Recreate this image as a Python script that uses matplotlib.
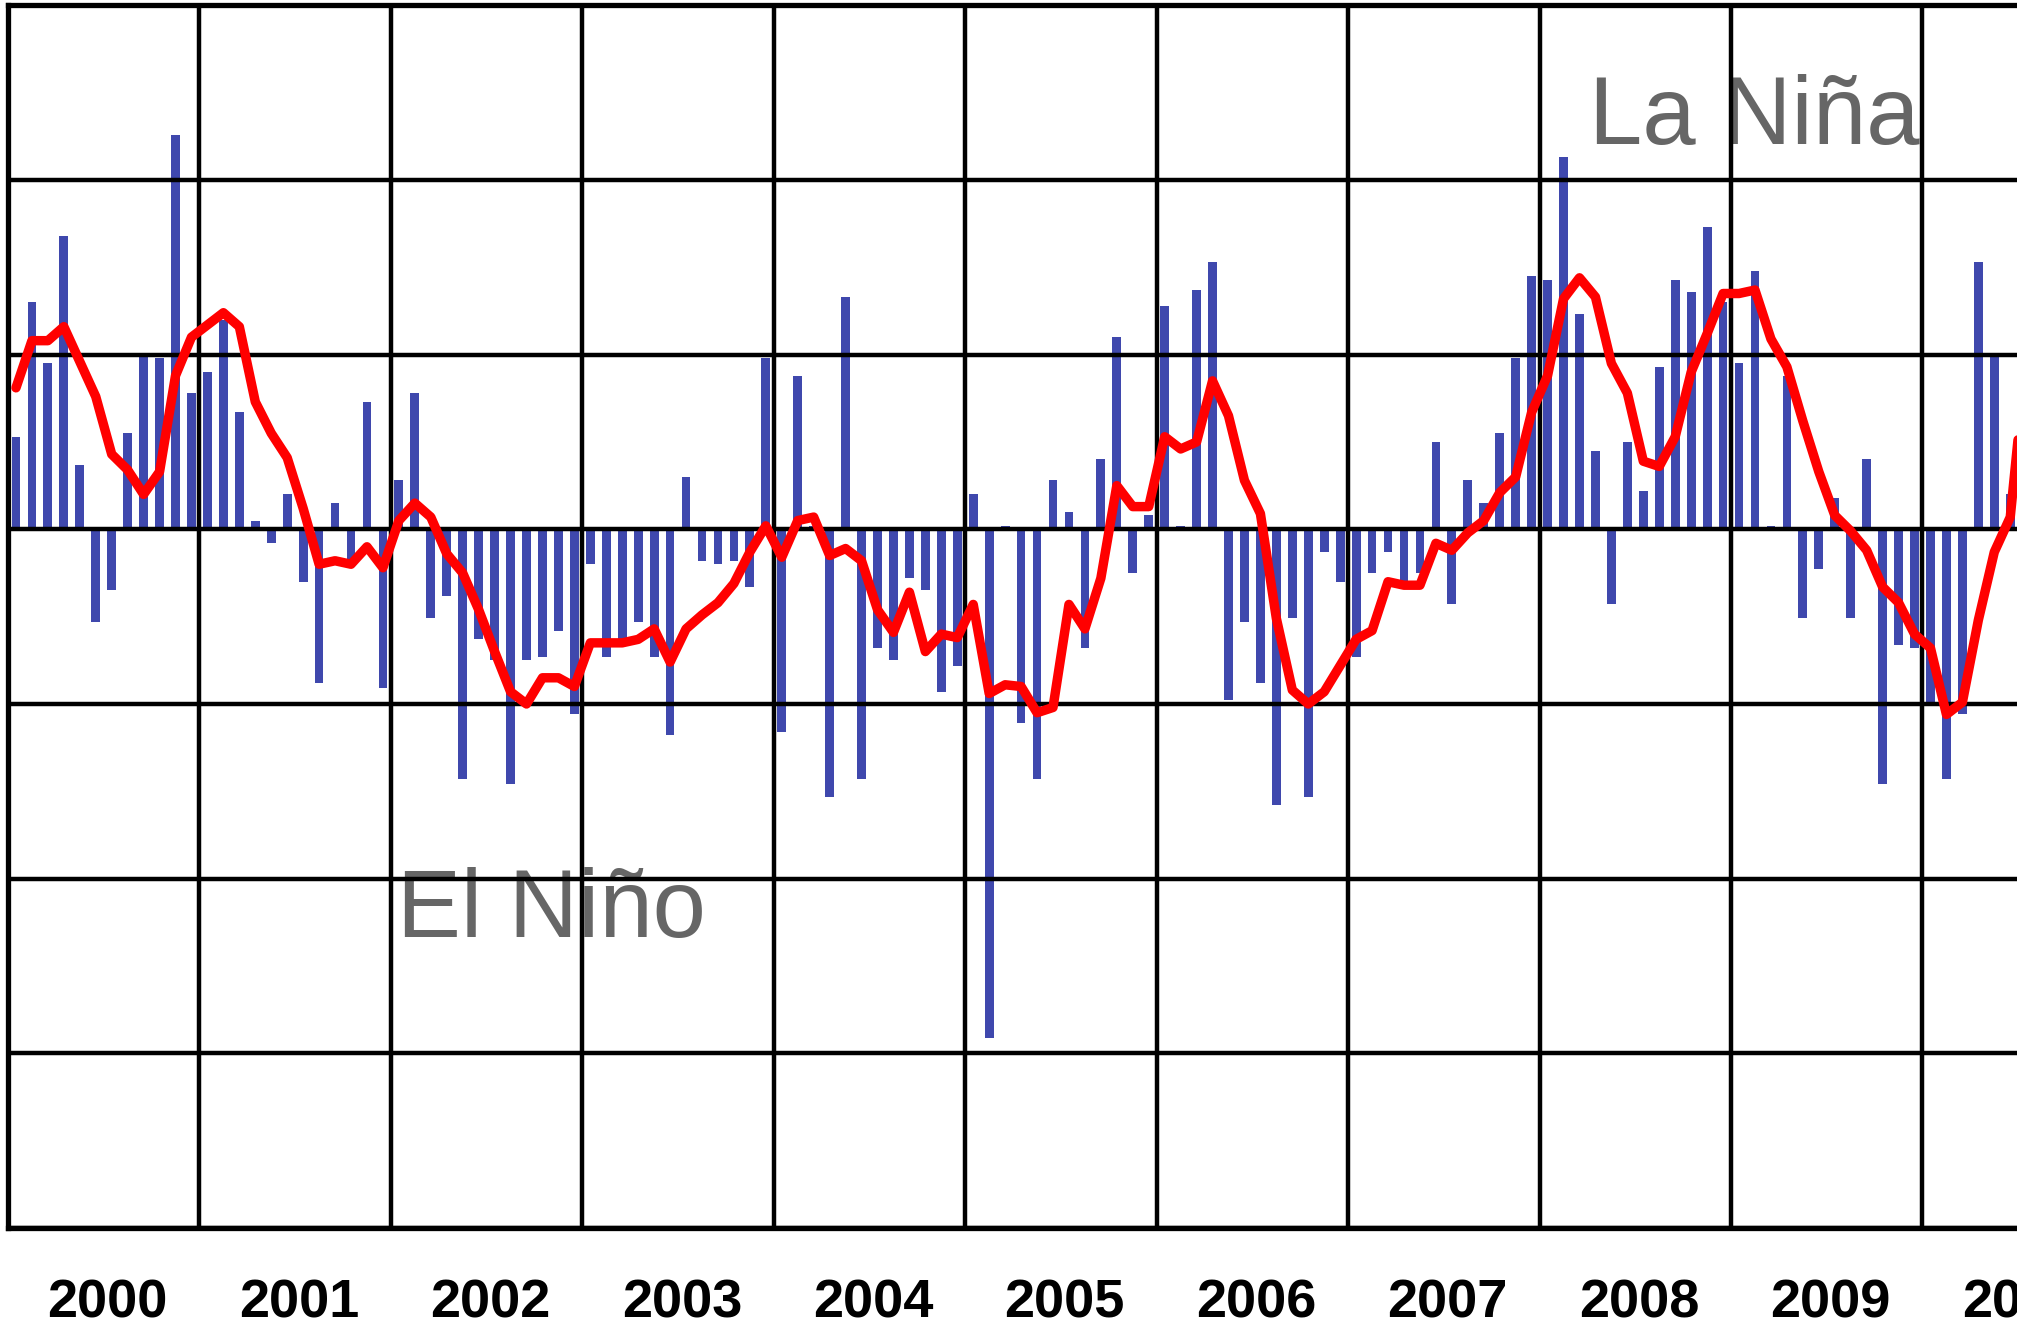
import numpy as np
import matplotlib.pyplot as plt

# Southern Oscillation Index, monthly values Jan 2000 - Jun 2010
years = list(range(2000, 2011))
year_labels = [str(y) for y in years]

soi_monthly = [
    5.3, 13.0, 9.5, 16.8, 3.7, -5.3, -3.5, 5.5, 10.0, 9.8, 22.6, 7.8,          # 2000
    9.0, 12.0, 6.7, 0.5, -0.8, 2.0, -3.0, -8.8, 1.5, -1.8, 7.3, -9.1,          # 2001
    2.8, 7.8, -5.1, -3.8, -14.3, -6.3, -7.5, -14.6, -7.5, -7.3, -5.8, -10.6,   # 2002
    -2.0, -7.3, -6.3, -5.3, -7.3, -11.8, 3.0, -1.8, -2.0, -1.8, -3.3, 9.8,     # 2003
    -11.6, 8.8, 0.2, -15.3, 13.3, -14.3, -6.8, -7.5, -2.8, -3.5, -9.3, -7.8,   # 2004
    2.0, -29.1, 0.2, -11.1, -14.3, 2.8, 1.0, -6.8, 4.0, 11.0, -2.5, 0.8,       # 2005
    12.8, 0.2, 13.7, 15.3, -9.8, -5.3, -8.8, -15.8, -5.1, -15.3, -1.3, -3.0,   # 2006
    -7.3, -2.5, -1.3, -3.0, -2.5, 5.0, -4.3, 2.8, 1.5, 5.5, 9.8, 14.5,         # 2007
    14.3, 21.3, 12.3, 4.5, -4.3, 5.0, 2.2, 9.3, 14.3, 13.6, 17.3, 13.0,        # 2008
    9.5, 14.8, 0.2, 8.8, -5.1, -2.3, 1.8, -5.1, 4.0, -14.6, -6.6, -6.8,        # 2009
    -10.1, -14.3, -10.6, 15.3, 10.0, 2.0,                                      # 2010
]

# smoothed index
soi_smoothed = [
    8.1, 10.8, 10.8, 11.6, 9.6, 7.6, 4.3, 3.4, 2.0, 3.3, 8.8, 11.0,
    11.7, 12.4, 11.6, 7.3, 5.5, 4.1, 1.2, -2.0, -1.8, -2.0, -1.0, -2.2,
    0.5, 1.5, 0.7, -1.4, -2.5, -4.6, -7.0, -9.3, -10.0, -8.5, -8.5, -9.0,
    -6.5, -6.5, -6.5, -6.3, -5.7, -7.6, -5.7, -4.9, -4.2, -3.1, -1.3, 0.2,
    -1.6, 0.5, 0.7, -1.5, -1.1, -1.8, -4.6, -5.9, -3.6, -7.0, -6.0, -6.2,
    -4.3, -9.4, -8.9, -9.0, -10.5, -10.2, -4.3, -5.7, -2.8, 2.5, 1.3, 1.3,
    5.3, 4.6, 5.0, 8.5, 6.5, 2.8, 0.9, -5.1, -9.2, -10.0, -9.3, -7.8,
    -6.3, -5.8, -3.0, -3.2, -3.2, -0.8, -1.2, -0.2, 0.5, 2.1, 3.0, 6.7,
    8.8, 13.2, 14.4, 13.3, 9.5, 7.8, 3.9, 3.6, 5.3, 9.0, 11.2, 13.5,
    13.5, 13.7, 10.9, 9.3, 6.2, 3.3, 0.8, -0.1, -1.2, -3.3, -4.2, -6.0,
    -6.8, -10.6, -9.9, -5.2, -1.3, 0.7, 9.8,
]

W, H = 2017, 1330
fig = plt.figure(figsize=(W / 100, H / 100), dpi=100)
ax = fig.add_axes([8 / W, 102 / H, (W - 8) / W, 1222.7 / H])

t_bar = 2000 + (np.arange(len(soi_monthly)) + 0.5) / 12
t_line = 2000 + (np.arange(len(soi_smoothed)) + 0.5) / 12

ax.bar(t_bar, soi_monthly, width=0.55 / 12, color='#3f48ad', linewidth=0, zorder=1)
ax.plot(t_line, soi_smoothed, color='#ff0000', lw=6.8,
        solid_joinstyle='round', solid_capstyle='round', zorder=3)

ax.set_xlim(2000, 2000 + (W - 8) / 191.45)
ax.set_ylim(-40, 30)
ax.set_xticks(years)
ax.set_yticks(range(-40, 31, 10))
ax.set_axisbelow(False)
ax.grid(True, color='black', lw=3.2)
ax.tick_params(length=0, labelbottom=False, labelleft=False)
for side in ['top', 'left', 'bottom']:
    ax.spines[side].set_linewidth(3.8)
    ax.spines[side].set_color('black')
ax.spines['right'].set_visible(False)

# year labels centred under each year, near the bottom edge
for y, lab in zip(years, year_labels):
    ax.text(y + 0.52, -45.1, lab, ha='center', va='baseline', fontsize=39,
            fontweight='bold', family='Liberation Sans', clip_on=False)

ax.text(2008.258, 22.06, 'La Niña', fontsize=69, color='#666666',
        family='Liberation Sans', zorder=2)
ax.text(2002.034, -23.36, 'El Niño', fontsize=69, color='#666666',
        family='Liberation Sans', zorder=2)

fig.savefig('out.png', dpi=100)
